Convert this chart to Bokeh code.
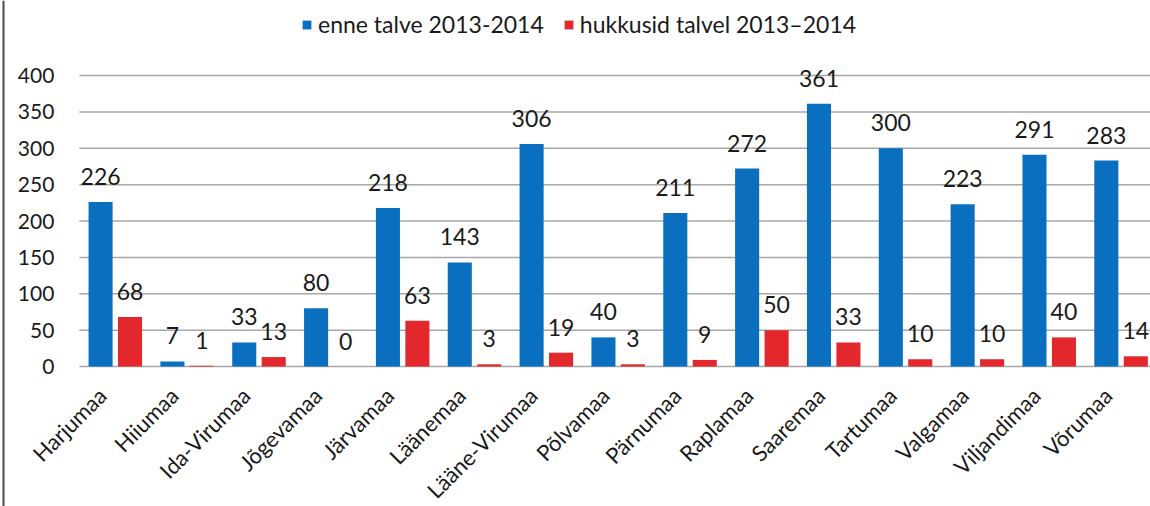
from bokeh.plotting import figure
from bokeh.models import ColumnDataSource, Range1d, Legend, LegendItem, Span
from bokeh.core.properties import value
from bokeh.embed import file_html
from bokeh.resources import INLINE
import math

counties = ["Harjumaa", "Hiiumaa", "Ida-Virumaa", "Jõgevamaa", "Järvamaa", "Läänemaa",
            "Lääne-Virumaa", "Põlvamaa", "Pärnumaa", "Raplamaa", "Saaremaa", "Tartumaa",
            "Valgamaa", "Viljandimaa", "Võrumaa"]
before_winter = [226, 7, 33, 80, 218, 143, 306, 40, 211, 272, 361, 300, 223, 291, 283]
died_winter = [68, 1, 13, 0, 63, 3, 19, 3, 9, 50, 33, 10, 10, 40, 14]
y_ticks = [0, 50, 100, 150, 200, 250, 300, 350, 400]
series_names = ["enne talve 2013-2014", "hukkusid talvel 2013–2014"]

BLUE = "#0b6fc0"
RED = "#e2282d"
GRID = "#a8a8a8"
TXT = "#1a1a1a"
FONT = "Lato"

# ---- layout (pixels) ----
W, H = 1150, 506
CAT_PX = 71.84          # width of one category
FIRST_CENTER_PX = 114.8 # centre of first category
ZERO_PX = 366.0         # y pixel of value 0 (from top)
PX_PER_UNIT = 0.7275    # vertical pixels per value unit
OFF = 0.205             # dodge of the two bars
BAR_W = 0.335

n = len(counties)
idx = list(range(n))
x_start = -FIRST_CENTER_PX / CAT_PX
x_end = x_start + W / CAT_PX
y_start = -(H - ZERO_PX) / PX_PER_UNIT
y_end = ZERO_PX / PX_PER_UNIT

src = ColumnDataSource(dict(
    idx=idx,
    xb=[i - OFF for i in idx],
    xr=[i + OFF for i in idx],
    cat=counties,
    before=before_winter,
    died=died_winter,
    zero=[0] * n,
    before_s=[str(v) for v in before_winter],
    died_s=[str(v) for v in died_winter],
))
tick_src = ColumnDataSource(dict(
    y=y_ticks,
    x0=[-0.5] * len(y_ticks),
    x1=[n - 0.5] * len(y_ticks),
    s=[str(t) for t in y_ticks],
))

p = figure(width=W, height=H, x_range=Range1d(x_start, x_end), y_range=Range1d(y_start, y_end),
           output_backend="svg", toolbar_location=None,
           min_border_left=0, min_border_right=0, min_border_top=0, min_border_bottom=0)
p.outline_line_color = None
p.background_fill_color = "white"
p.border_fill_color = "white"
p.xaxis.visible = False
p.yaxis.visible = False
p.xgrid.grid_line_color = None
p.ygrid.grid_line_color = None

# horizontal grid lines (start at the plot area's left edge)
p.segment(x0="x0", x1="x1", y0="y", y1="y", source=tick_src,
          line_color=GRID, line_width=1.5)
# y tick labels
p.text(x="x0", y="y", text="s", source=tick_src, x_offset=-25,
       text_align="right", text_baseline="middle",
       text_font=value(FONT), text_font_size="21px", text_color=TXT)

r1 = p.vbar(x="xb", top="before", bottom=0, width=BAR_W, source=src,
            fill_color=BLUE, line_color=None)
r2 = p.vbar(x="xr", top="died", bottom=0, width=BAR_W, source=src,
            fill_color=RED, line_color=None)

# value labels
p.text(x="xb", y="before", text="before_s", source=src,
       text_align="center", text_baseline="bottom", y_offset=-17,
       text_font=value(FONT), text_font_size="23px", text_color=TXT)
p.text(x="xr", y="died", text="died_s", source=src,
       text_align="center", text_baseline="bottom", y_offset=-17,
       text_font=value(FONT), text_font_size="23px", text_color=TXT)

# rotated category labels below the zero line
p.text(x="idx", y="zero", text="cat", source=src,
       angle=math.pi / 4, text_align="right", text_baseline="middle",
       x_offset=-13, y_offset=25,
       text_font=value(FONT), text_font_size="22px", text_color=TXT)

# left border line of the chart area
p.add_layout(Span(location=x_start + 3 / CAT_PX, dimension="height",
                  line_color="#4a4a4a", line_width=2))

legend = Legend(items=[LegendItem(label=series_names[0], renderers=[r1]),
                       LegendItem(label=series_names[1], renderers=[r2])],
                orientation="horizontal", location=(301, 468),
                label_text_font=FONT, label_text_font_size="23px",
                label_text_color=TXT, glyph_width=11, glyph_height=11,
                spacing=19, padding=4, label_standoff=6,
                background_fill_alpha=0, border_line_color=None)
p.add_layout(legend)

open("out.html", "w").write(file_html(p, INLINE))
